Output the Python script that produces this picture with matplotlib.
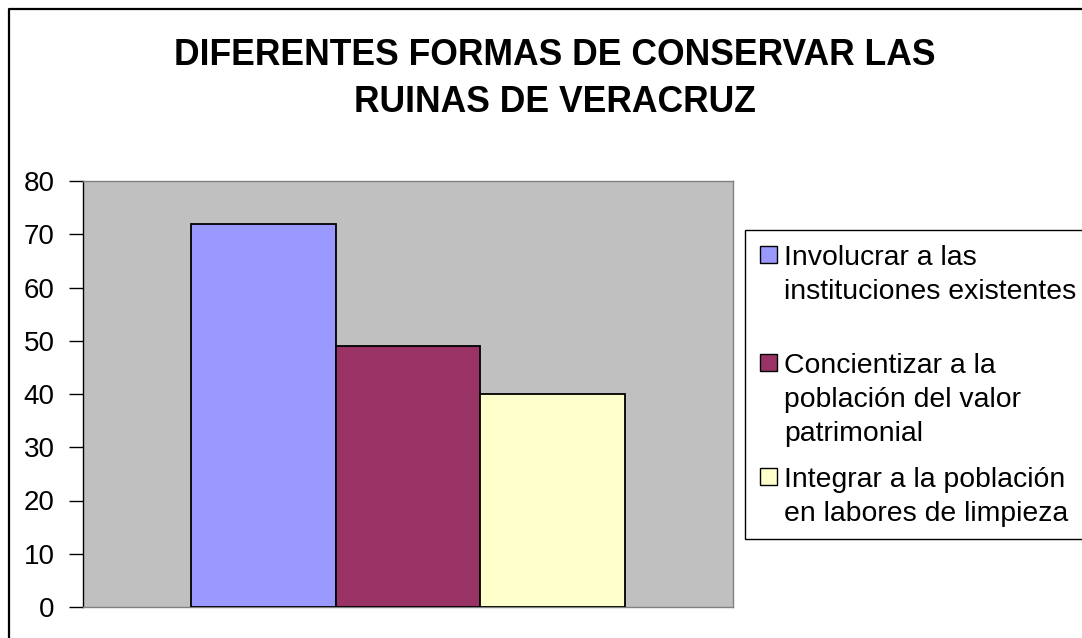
"""Excel-style bar chart: formas de conservar las ruinas de Veracruz."""

import matplotlib
matplotlib.use("Agg")
import matplotlib.pyplot as plt
from matplotlib.patches import Rectangle
from matplotlib.lines import Line2D

plt.rcParams["font.family"] = ["Liberation Sans", "DejaVu Sans"]

# data
series_labels = [
    "Involucrar a las\ninstituciones existentes",
    "Concientizar a la\npoblación del valor\npatrimonial",
    "Integrar a la población\nen labores de limpieza",
]
series_values = [72, 49, 40]
series_colors = ["#9999FF", "#993366", "#FFFFCC"]
y_ticks = [0, 10, 20, 30, 40, 50, 60, 70, 80]
title_lines = ["DIFERENTES FORMAS DE CONSERVAR LAS", "RUINAS DE VERACRUZ"]

W, H = 1082, 638
fig = plt.figure(figsize=(W / 100, H / 100), dpi=100, facecolor="white")


def fx(px):
    return px / W


def fy(py):
    return 1 - py / H


# plot area (pixels: x 83-733, y 181-607)
ax = fig.add_axes([fx(83), fy(607), fx(733) - fx(83), fy(181) - fy(607)])
ax.set_facecolor("#C0C0C0")

positions = [i - 1 for i in range(len(series_values))]
ax.bar(positions, series_values, width=1.0, color=series_colors,
       edgecolor="black", linewidth=1.3, zorder=3)

ax.set_xlim(-2.25, 2.25)
ax.set_ylim(0, 80)
ax.set_yticks(y_ticks)
ax.set_xticks([])
ax.tick_params(axis="y", direction="out", length=10, width=1, pad=10.5,
               labelsize=20, colors="black")

for side in ["top", "right", "bottom"]:
    ax.spines[side].set_color("#808080")
    ax.spines[side].set_linewidth(1)
ax.spines["left"].set_color("black")
ax.spines["left"].set_linewidth(1)

# title, one baseline per line
for line, base in zip(title_lines, [65, 112]):
    fig.text(fx(555), fy(base), line, ha="center", va="baseline",
             fontsize=25.6, fontweight="bold", color="black")

# legend box (runs past the right edge like the source)
fig.add_artist(Rectangle((fx(745), fy(539)), fx(400), fy(230) - fy(539),
                         transform=fig.transFigure, facecolor="white",
                         edgecolor="black", linewidth=1))

first_baselines = [265, 373, 487]
line_step = 34
for label, color, base in zip(series_labels, series_colors, first_baselines):
    fig.add_artist(Rectangle((fx(760), fy(base - 2)), fx(17), fy(base - 19) - fy(base - 2),
                             transform=fig.transFigure, facecolor=color,
                             edgecolor="black", linewidth=1))
    for k, part in enumerate(label.split("\n")):
        fig.text(fx(784), fy(base + k * line_step), part, ha="left",
                 va="baseline", fontsize=20.4, color="black")

# outer chart border (only top and left visible in the crop)
fig.add_artist(Line2D([fx(8.5), fx(8.5), fx(1090)], [fy(650), fy(8.5), fy(8.5)],
                      transform=fig.transFigure, color="black", linewidth=1.6))

fig.savefig("out.png", dpi=100, facecolor="white")
